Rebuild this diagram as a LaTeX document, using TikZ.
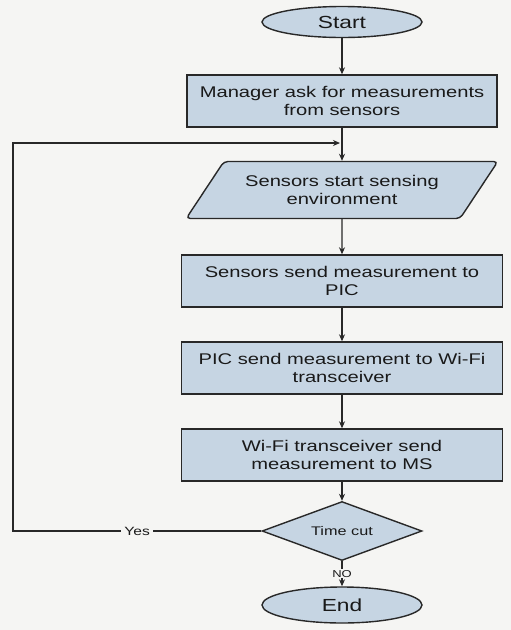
\documentclass[tikz,border=0pt]{standalone}
\usepackage{fontspec}
\usetikzlibrary{shapes.geometric,arrows.meta}
\newfontfamily\flowfont[FakeStretch=1.3]{Liberation Sans}
\definecolor{boxfill}{RGB}{198,213,227}
\definecolor{edgecol}{RGB}{40,40,40}
\definecolor{paper}{RGB}{245,245,243}
\tikzset{
  base/.style={draw=edgecol, line width=1.4pt, fill=boxfill, align=center, inner sep=0pt,
    font=\flowfont\fontsize{15.5}{18}\selectfont, text=black!90},
  procbox/.style={base, rectangle, minimum width=321pt, minimum height=52pt},
  term/.style={base, ellipse, minimum width=160pt, font=\flowfont\fontsize{17.5}{20}\selectfont},
  iobox/.style={base, trapezium, trapezium left angle=43.5, trapezium right angle=136.5,
    trapezium stretches=true, minimum width=312pt, minimum height=57pt, rounded corners=4pt},
  decision/.style={base, diamond, aspect=2.7, minimum width=160pt, minimum height=59pt,
    font=\flowfont\fontsize{12.5}{14}\selectfont},
  conn/.style={draw=edgecol, line width=1.4pt, -{Stealth[length=7pt,width=6pt]}},
  lbl/.style={fill=paper, inner sep=3pt, font=\flowfont\fontsize{12}{14}\selectfont, text=black!90}
}
\begin{document}
\begin{tikzpicture}[x=1pt,y=-1pt]
\fill[paper] (0,0) rectangle (511,630);
\useasboundingbox (0,0) rectangle (511,630);

\node[term, minimum height=31pt] (start) at (342,22) {Start};
\node[procbox, minimum width=310pt] (m1) at (342,101) {Manager ask for measurements\\from sensors};
\node[iobox] (sense) at (342,190) {Sensors start sensing\\environment};
\node[procbox] (p2) at (342,281) {Sensors send measurement to\\PIC};
\node[procbox] (p3) at (342,368) {PIC send measurement to Wi-Fi\\transceiver};
\node[procbox] (p4) at (342,455) {Wi-Fi transceiver send\\measurement to MS};
\node[decision] (dec) at (342,531) {Time cut};
\node[term, minimum height=36pt] (stop) at (342,605) {End};

\coordinate (loopB) at (13,531);
\coordinate (loopT) at (13,143);
\coordinate (join) at (341,143);

\draw[conn] (start) -- (m1);
\draw[conn] (m1) -- (sense);
\draw[conn] (sense) -- (p2);
\draw[conn] (p2) -- (p3);
\draw[conn] (p3) -- (p4);
\draw[conn] (p4) -- (dec);
\draw[conn] (dec.west) -- node[lbl] {Yes} (loopB) -- (loopT) -- ([xshift=-1pt]join);
\draw[conn] (dec.south) -- node[lbl, inner sep=1pt, font=\flowfont\fontsize{10}{11}\selectfont] {NO} (stop.north);
\end{tikzpicture}
\end{document}
